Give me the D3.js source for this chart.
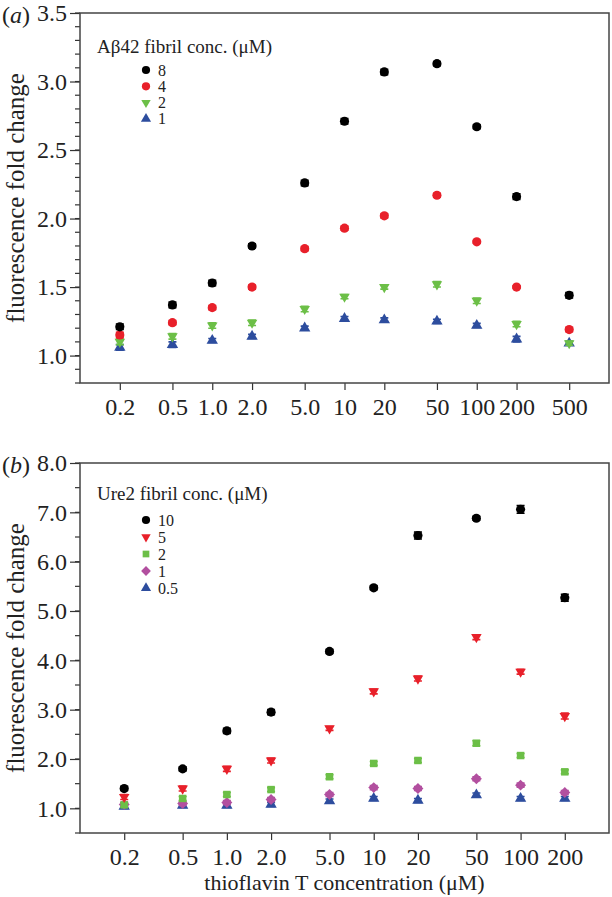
<!DOCTYPE html>
<html>
<head>
<meta charset="utf-8">
<script src="https://cdn.jsdelivr.net/npm/d3@7/dist/d3.min.js"></script>
<style>
body { margin: 0; background: #fff; }
svg text { font-family: "Liberation Serif", "Times New Roman", serif; fill: #222; }
</style>
</head>
<body>
<svg id="chart" width="612" height="897"></svg>
<script>
// thioflavin T concentrations (uM)
var concA = [0.2, 0.5, 1, 2, 5, 10, 20, 50, 100, 200, 500],
	labelsA = ["0.2", "0.5", "1.0", "2.0", "5.0", "10", "20", "50", "100", "200", "500"]
var concB = [0.2, 0.5, 1, 2, 5, 10, 20, 50, 100, 200],
	labelsB = ["0.2", "0.5", "1.0", "2.0", "5.0", "10", "20", "50", "100", "200"]

// panel a: Abeta42 fibril conc. 8, 4, 2, 1 uM
var a8 = [1.21, 1.37, 1.53, 1.80, 2.26, 2.71, 3.07, 3.13, 2.67, 2.16, 1.44],
	a4 = [1.15, 1.24, 1.35, 1.50, 1.78, 1.93, 2.02, 2.17, 1.83, 1.50, 1.19],
	a2 = [1.10, 1.14, 1.22, 1.24, 1.34, 1.43, 1.50, 1.52, 1.40, 1.23, 1.09],
	a1 = [1.06, 1.08, 1.11, 1.14, 1.20, 1.27, 1.26, 1.25, 1.22, 1.12, 1.09]
var errA8 = [0.02, 0.02, 0.02, 0.015, 0.02, 0.02, 0.02, 0.015, 0.015, 0.02, 0.02],
	errA4 = [0.02, 0.015, 0.015, 0.015, 0.015, 0.015, 0.015, 0.015, 0.01, 0.01, 0.015],
	errA2 = [0.02, 0.02, 0.02, 0.02, 0.02, 0.015, 0.015, 0.02, 0.02, 0.02, 0.015],
	errA1 = [0.02, 0.02, 0.015, 0.015, 0.015, 0.015, 0.015, 0.015, 0.015, 0.02, 0.015]

// panel b: Ure2 fibril conc. 10, 5, 2, 1, 0.5 uM
var b10 = [1.40, 1.80, 2.57, 2.95, 4.18, 5.47, 6.53, 6.88, 7.06, 5.27],
	b5 = [1.23, 1.40, 1.80, 1.97, 2.62, 3.37, 3.63, 4.47, 3.77, 2.87],
	b2 = [1.07, 1.20, 1.28, 1.38, 1.64, 1.91, 1.97, 2.32, 2.07, 1.74],
	b1 = [1.08, 1.10, 1.12, 1.18, 1.28, 1.42, 1.40, 1.60, 1.47, 1.32],
	b05 = [1.04, 1.06, 1.06, 1.08, 1.15, 1.20, 1.16, 1.27, 1.20, 1.20]
var errB10 = [0.04, 0.04, 0.05, 0.05, 0.04, 0.04, 0.07, 0.04, 0.08, 0.07],
	errB5 = [0.05, 0.05, 0.05, 0.05, 0.04, 0.05, 0.05, 0.05, 0.05, 0.06],
	errB2 = [0.04, 0.04, 0.04, 0.04, 0.04, 0.04, 0.04, 0.05, 0.04, 0.04],
	errB1 = [0.04, 0.04, 0.04, 0.04, 0.04, 0.04, 0.04, 0.04, 0.04, 0.04],
	errB05 = [0.04, 0.04, 0.04, 0.04, 0.04, 0.04, 0.04, 0.04, 0.04, 0.04]

var legendA = ["8", "4", "2", "1"],
	legendB = ["10", "5", "2", "1", "0.5"]

var svg = d3.select('#chart')

var black = '#000000', red = '#e8202a', green = '#6cbf47', blue = '#2d4d9e', magenta = '#b24f9f'

var triDown = {draw: function(ctx, size) {
	var s = Math.sqrt(size / (Math.sqrt(3) / 4))
	var h = s * Math.sqrt(3) / 2
	ctx.moveTo(-s / 2, -h / 3)
	ctx.lineTo(s / 2, -h / 3)
	ctx.lineTo(0, h * 2 / 3)
	ctx.closePath()
}}
var diamond = {draw: function(ctx, size) {
	var r = Math.sqrt(size / 2)
	ctx.moveTo(0, -r)
	ctx.lineTo(r, 0)
	ctx.lineTo(0, r)
	ctx.lineTo(-r, 0)
	ctx.closePath()
}}

var panels = [
	{
		tag: 'a', top: 13, bottom: 383, xdom: [0.1, 1000], ydom: [0.8, 3.5],
		major: d3.range(1.0, 3.51, 0.5), minor: d3.range(0.8, 3.51, 0.1), fmt: d3.format('.1f'),
		conc: concA, xlabels: labelsA,
		title: 'A\u03b242 fibril conc. (\u03bcM)', titleY: 53, legTop: 70, legStep: 16.3,
		series: [
			{y: a8, err: errA8, color: black, sym: d3.symbolCircle, size: 66, name: legendA[0]},
			{y: a4, err: errA4, color: red, sym: d3.symbolCircle, size: 66, name: legendA[1]},
			{y: a2, err: errA2, color: green, sym: triDown, size: 48, name: legendA[2]},
			{y: a1, err: errA1, color: blue, sym: d3.symbolTriangle, size: 56, name: legendA[3]}
		]
	},
	{
		tag: 'b', top: 463, bottom: 833, xdom: [0.1, 400], ydom: [0.5, 8.0],
		major: d3.range(1.0, 8.01, 1), minor: d3.range(0.5, 8.01, 0.5), fmt: d3.format('.1f'),
		conc: concB, xlabels: labelsB,
		title: 'Ure2 fibril conc. (\u03bcM)', titleY: 500, legTop: 520, legStep: 17,
		series: [
			{y: b10, err: errB10, color: black, sym: d3.symbolCircle, size: 66, name: legendB[0]},
			{y: b5, err: errB5, color: red, sym: triDown, size: 48, name: legendB[1]},
			{y: b2, err: errB2, color: green, sym: d3.symbolSquare, size: 56, name: legendB[2]},
			{y: b1, err: errB1, color: magenta, sym: diamond, size: 60, name: legendB[3]},
			{y: b05, err: errB05, color: blue, sym: d3.symbolTriangle, size: 56, name: legendB[4]}
		]
	}
]

var left = 80, right = 609

panels.forEach(function(p) {
	var x = d3.scaleLog().domain(p.xdom).range([left, right]),
		y = d3.scaleLinear().domain(p.ydom).range([p.bottom, p.top])

	var g = svg.append('g')

	// y axis, major + minor ticks outward
	var yAxis = d3.axisLeft(y).tickValues(p.major).tickFormat(p.fmt).tickSize(10).tickPadding(3)
	var ya = g.append('g').attr('transform', 'translate(' + left + ',0)').call(yAxis)
	ya.select('.domain').remove()
	ya.selectAll('line').attr('stroke', '#333').attr('stroke-width', 1.2)
	ya.selectAll('text').attr('font-size', 24).attr('fill', '#222').attr('font-family', null)

	g.selectAll('.minor')
		.data(p.minor)
		.enter()
		.append('line')
		.attr('class', 'minor')
		.attr('x1', left - 5).attr('x2', left)
		.attr('y1', function(d) {return y(d)}).attr('y2', function(d) {return y(d)})
		.attr('stroke', '#333').attr('stroke-width', 1.2)

	// x axis
	var xAxis = d3.axisBottom(x).tickValues(p.conc).tickFormat(function(d, i) {return p.xlabels[i]}).tickSize(7).tickPadding(8)
	var xa = g.append('g').attr('transform', 'translate(0,' + p.bottom + ')').call(xAxis)
	xa.select('.domain').remove()
	xa.selectAll('line').attr('stroke', '#333').attr('stroke-width', 1.2)
	xa.selectAll('text').attr('font-size', 24).attr('fill', '#222').attr('font-family', null)

	// frame
	g.append('rect')
		.attr('x', left).attr('y', p.top)
		.attr('width', right - left).attr('height', p.bottom - p.top)
		.attr('fill', 'none').attr('stroke', '#444').attr('stroke-width', 1.5)

	// y label
	g.append('text')
		.attr('transform', 'translate(24,' + ((p.top + p.bottom) / 2) + ') rotate(-90)')
		.attr('text-anchor', 'middle')
		.attr('font-size', 25)
		.text('fluorescence fold change')

	// panel tag
	var tg = g.append('text').attr('x', 2).attr('y', p.top + 10).attr('font-size', 24)
	tg.append('tspan').text('(')
	tg.append('tspan').attr('font-style', 'italic').text(p.tag)
	tg.append('tspan').text(')')

	// series, drawn back to front
	p.series.slice().reverse().forEach(function(s) {
		var sg = g.append('g')
		sg.selectAll('.err')
			.data(s.y)
			.enter()
			.append('path')
			.attr('d', function(d, i) {
				var cx = x(p.conc[i]), y0 = y(d - s.err[i]), y1 = y(d + s.err[i])
				return 'M' + (cx - 4) + ',' + y0 + 'H' + (cx + 4) + 'M' + (cx - 4) + ',' + y1 + 'H' + (cx + 4) + 'M' + cx + ',' + y0 + 'V' + y1
			})
			.attr('stroke', s.color).attr('stroke-width', 1.6).attr('fill', 'none')
		sg.selectAll('.pt')
			.data(s.y)
			.enter()
			.append('path')
			.attr('transform', function(d, i) {return 'translate(' + x(p.conc[i]) + ',' + y(d) + ')'})
			.attr('d', d3.symbol().type(s.sym).size(s.size))
			.attr('fill', s.color)
	})

	// legend
	g.append('text').attr('x', 97).attr('y', p.titleY).attr('font-size', 19).text(p.title)
	p.series.forEach(function(s, i) {
		var ly = p.legTop + i * p.legStep
		g.append('path')
			.attr('transform', 'translate(146,' + ly + ')')
			.attr('d', d3.symbol().type(s.sym).size(s.size * 0.8))
			.attr('fill', s.color)
		g.append('text').attr('x', 158).attr('y', ly + 5.5).attr('font-size', 16).text(s.name)
	})
})

svg.append('text')
	.attr('x', (left + right) / 2).attr('y', 890)
	.attr('text-anchor', 'middle')
	.attr('font-size', 22)
	.text('thioflavin T concentration (\u03bcM)')
</script>
</body>
</html>
